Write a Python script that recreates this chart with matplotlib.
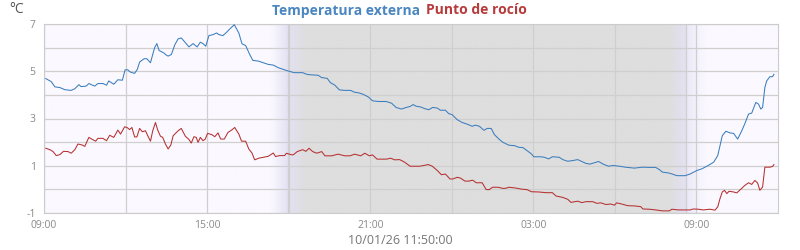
import numpy as np
import matplotlib.pyplot as plt

plt.rcParams['font.family'] = ['Open Sans', 'DejaVu Sans']

# minutes since 09:00 (10/01 09:00 -> 11/01 11:50)
temp_min = [4, 16, 24, 35, 46, 60, 68, 77, 82, 93, 99, 112, 119, 130, 138, 143, 154, 163, 173,
            179, 185, 190, 200, 206, 211, 221, 227, 235, 244, 249, 254, 264, 271,
            274, 281, 289, 296, 303, 311, 320, 329, 338, 345, 351, 357, 364, 373, 381, 386,
            395, 403, 410, 420, 425, 430, 437, 445, 454, 461, 473, 484, 495, 506, 517, 528,
            539, 552, 557, 571, 580, 588, 605, 613, 625, 632, 642, 652, 664, 677, 684, 696,
            706, 716, 725, 738, 755, 767, 777, 789, 800, 808, 815, 821, 831, 840, 849, 858,
            868, 875, 886, 893, 901, 912, 923, 934, 945, 952, 961, 971, 978, 987, 994, 1004,
            1013, 1026, 1039, 1048, 1057, 1066, 1076, 1081, 1096, 1104, 1114, 1122, 1137,
            1145, 1156, 1167, 1178, 1187, 1196, 1205, 1214, 1224, 1234, 1246, 1256, 1270,
            1283, 1303, 1321, 1336, 1350, 1358, 1365, 1380, 1397, 1415, 1426, 1441, 1452,
            1466, 1478, 1487, 1492, 1497, 1505, 1514, 1522, 1531, 1540, 1547, 1555, 1562,
            1571, 1577, 1582, 1586, 1591, 1595, 1602, 1608, 1611]
temp_val = [4.69, 4.56, 4.34, 4.31, 4.22, 4.19, 4.26, 4.43, 4.35, 4.37, 4.48, 4.37, 4.48, 4.48,
            4.41, 4.59, 4.45, 4.64, 4.62, 5.06, 5.06, 4.97, 4.91, 5.08, 5.39, 5.53, 5.53,
            5.36, 5.99, 6.17, 5.88, 5.78, 5.67, 5.64, 5.71, 6.13, 6.37, 6.41, 6.23, 6.03,
            6.17, 6.03, 6.23, 6.17, 6.06, 6.51, 6.55, 6.62, 6.55, 6.51, 6.65, 6.79, 6.97,
            6.79, 6.62, 6.16, 6.09, 5.71, 5.46, 5.43, 5.36, 5.29, 5.26, 5.15, 5.08, 5.01,
            4.94, 4.94, 4.94, 4.87, 4.85, 4.83, 4.73, 4.70, 4.52, 4.41, 4.21, 4.19, 4.19,
            4.12, 4.08, 4.01, 3.91, 3.75, 3.72, 3.72, 3.65, 3.47, 3.40, 3.47, 3.51, 3.59,
            3.52, 3.49, 3.42, 3.37, 3.47, 3.44, 3.35, 3.35, 3.21, 3.16, 2.95, 2.83, 2.76,
            2.67, 2.72, 2.67, 2.50, 2.58, 2.58, 2.32, 2.13, 1.99, 1.87, 1.85, 1.78, 1.77,
            1.64, 1.50, 1.38, 1.38, 1.36, 1.29, 1.38, 1.36, 1.26, 1.19, 1.22, 1.26, 1.18,
            1.10, 1.07, 1.12, 1.18, 1.07, 0.98, 1.01, 0.98, 0.94, 0.90, 0.94, 0.93, 0.93,
            0.84, 0.73, 0.69, 0.58, 0.58, 0.65, 0.80, 0.87, 1.01, 1.15, 1.43, 1.85, 2.27,
            2.46, 2.39, 2.37, 2.13, 2.48, 2.79, 3.19, 3.23, 3.68, 3.61, 3.40, 3.47, 4.31,
            4.59, 4.77, 4.77, 4.87]

dew_min = [4, 13, 20, 27, 35, 43, 53, 60, 68, 75, 84, 90, 99, 107, 114, 119, 130, 138, 145,
           154, 163, 169, 178, 184, 189, 194, 200, 205, 211, 217, 224, 229, 235, 240, 246,
           251, 257, 262, 268, 274, 280, 285, 296, 303, 312, 320, 325, 331, 336, 340, 345,
           351, 356, 361, 370, 377, 384, 390, 398, 406, 414, 421, 430, 436, 445, 452, 459,
           465, 474, 484, 495, 506, 511, 520, 531, 535, 545, 550, 559, 571, 578, 585, 593,
           602, 613, 620, 635, 649, 664, 675, 686, 699, 708, 718, 725, 735, 756, 765, 774,
           785, 796, 808, 815, 830, 838, 848, 857, 868, 877, 886, 896, 902, 912, 919, 929,
           938, 946, 954, 967, 976, 983, 990, 1002, 1013, 1020, 1026, 1040, 1054, 1066,
           1076, 1092, 1108, 1122, 1130, 1145, 1156, 1163, 1178, 1187, 1196, 1211, 1220,
           1229, 1240, 1251, 1259, 1264, 1277, 1288, 1303, 1317, 1322, 1336, 1350, 1365,
           1380, 1386, 1400, 1426, 1433, 1444, 1455, 1470, 1481, 1487, 1492, 1497, 1502,
           1507, 1512, 1522, 1529, 1539, 1547, 1555, 1562, 1569, 1575, 1580, 1586, 1591,
           1602, 1608, 1611]
dew_val = [1.74, 1.68, 1.60, 1.43, 1.47, 1.61, 1.60, 1.53, 1.68, 1.92, 1.88, 1.82, 2.20, 2.11,
           2.04, 2.16, 2.16, 2.06, 2.29, 2.20, 2.51, 2.34, 2.65, 2.61, 2.53, 2.62, 2.22,
           2.22, 2.58, 2.44, 2.48, 2.27, 2.04, 2.48, 2.83, 2.51, 2.25, 2.20, 1.92, 1.71,
           1.88, 2.27, 2.48, 2.58, 2.25, 2.11, 1.96, 2.23, 2.20, 1.99, 2.20, 2.06, 2.13,
           2.37, 2.32, 2.23, 2.39, 2.13, 2.13, 2.41, 2.51, 2.62, 2.34, 2.04, 2.04, 1.71,
           1.54, 1.25, 1.32, 1.36, 1.40, 1.54, 1.39, 1.43, 1.43, 1.53, 1.47, 1.46, 1.60,
           1.68, 1.61, 1.74, 1.60, 1.53, 1.60, 1.42, 1.42, 1.49, 1.42, 1.42, 1.49, 1.42,
           1.53, 1.42, 1.46, 1.28, 1.28, 1.32, 1.25, 1.26, 1.15, 0.98, 0.98, 0.98, 1.01,
           1.05, 0.98, 0.80, 0.62, 0.65, 0.44, 0.44, 0.51, 0.48, 0.35, 0.35, 0.39, 0.28,
           0.28, -0.01, -0.01, 0.09, 0.09, 0.04, 0.05, 0.09, 0.06, 0.01, -0.01, -0.10,
           -0.11, -0.14, -0.14, -0.28, -0.34, -0.42, -0.55, -0.50, -0.56, -0.52, -0.52,
           -0.59, -0.57, -0.64, -0.62, -0.67, -0.57, -0.63, -0.69, -0.70, -0.73, -0.83,
           -0.84, -0.87, -0.91, -0.91, -0.84, -0.87, -0.87, -0.83, -0.84, -0.87, -0.84,
           -0.88, -0.74, -0.39, -0.11, -0.04, -0.18, -0.08, -0.11, -0.15, 0.03, 0.17,
           0.28, 0.21, 0.38, 0.27, -0.04, 0.10, 0.94, 0.94, 0.97, 1.05]

x_ticks = [0, 180, 360, 540, 720, 900, 1080, 1260, 1440]
x_labels = ['09:00', '', '15:00', '', '21:00', '', '03:00', '', '09:00']
y_ticks = [-1, 0, 1, 2, 3, 4, 5, 6, 7]
y_labels = ['-1', '', '1', '', '3', '', '5', '', '7']
sunset, sunrise = 538, 1418

fig = plt.figure(figsize=(8, 2.5), dpi=100)
ax = fig.add_axes([0.055, 0.148, 0.9175, 0.756])

# background: day lavender, night gray, soft twilight edges
bg = np.array([251, 249, 255]) / 255
lav = np.array([228, 225, 243]) / 255
pale = np.array([236, 233, 248]) / 255
gray = np.array([222, 222, 222]) / 255
stops_x = [0, sunset - 38, sunset, sunset + 2, sunset + 38, sunrise - 38, sunrise, sunrise + 1,
           1440, 1465, 1620]
stops_c = [bg, bg, lav, lav, gray, gray, lav, pale, pale * 0.5 + bg * 0.5, bg, bg]
xs = np.arange(0, 1621)
img = np.zeros((1, len(xs), 3))
for k in range(3):
    img[0, :, k] = np.interp(xs, stops_x, [c[k] for c in stops_c])
ax.imshow(img, extent=[0, 1620, -1, 7], aspect='auto', zorder=0, interpolation='bilinear')

ax.set_xlim(0, 1620)
ax.set_ylim(-1, 7)
ax.set_xticks(x_ticks)
ax.set_xticklabels(x_labels)
ax.set_yticks(y_ticks)
ax.set_yticklabels(y_labels)
ax.grid(True, color='#cfcfcf', linewidth=0.9)
ax.set_axisbelow(True)
ax.axvline(sunset, color='#cfcfcf', linewidth=0.9, zorder=1)
ax.axvline(sunrise, color='#cfcfcf', linewidth=0.9, zorder=1)
for s in ax.spines.values():
    s.set_color('#cccccc')
ax.tick_params(length=0, colors='#8a8a8a', labelsize=7.5)
ax.tick_params(axis='y', pad=6)
ax.tick_params(axis='x', pad=5)

ax.plot(temp_min, temp_val, color='#3a7dbd', linewidth=0.75, zorder=3)
ax.plot(dew_min, dew_val, color='#b5302f', linewidth=0.75, zorder=3)

fig.text(420 / 800, 0.958, 'Temperatura externa', color='#4a86c0', fontsize=10,
         fontweight='bold', ha='right', va='center')
fig.text(426 / 800, 0.958, 'Punto de rocío', color='#b83b3b', fontsize=10,
         fontweight='bold', ha='left', va='center')
fig.text(9 / 800, 0.962, '°C', color='#555555', fontsize=10, ha='left', va='center')
fig.text(400 / 800, 1 - 241 / 250, '10/01/26 11:50:00', color='#777777', fontsize=9,
         ha='center', va='center')

fig.savefig('out.png', dpi=100)
